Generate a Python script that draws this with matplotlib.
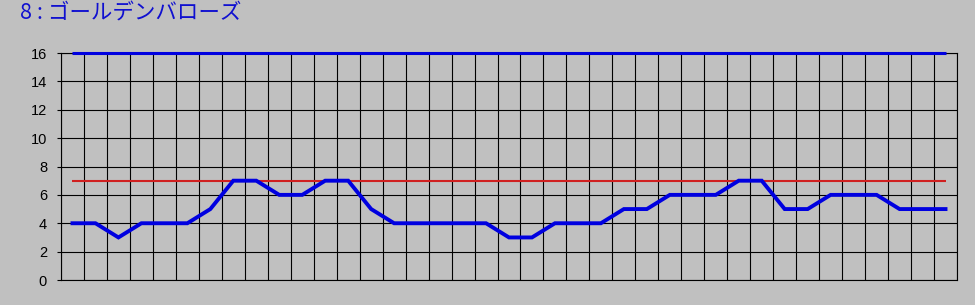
import matplotlib.pyplot as plt
import numpy as np

plt.rcParams['font.family'] = ['Liberation Sans', 'DejaVu Sans']

# race results per run, one value per column
title = '8 : ゴールデンバローズ'
values = [4, 4, 3, 4, 4, 4, 5, 7, 7, 6, 6, 7,
          7, 5, 4, 4, 4, 4, 4, 3, 3, 4, 4, 4,
          5, 5, 6, 6, 6, 7, 7, 5, 5, 6, 6, 6,
          5, 5, 5]
max_line = 16
avg_line = 7
yticks = [0, 2, 4, 6, 8, 10, 12, 14, 16]

bg = '#c0c0c0'
n = len(values)
x = np.arange(n)

fig = plt.figure(figsize=(9.75, 3.05), dpi=100, facecolor=bg)
ax = fig.add_axes([61 / 975, 25 / 305, 896 / 975, 227 / 305], facecolor=bg)

# grid: vertical lines at column edges, horizontal at every tick
for k in range(n + 1):
    ax.axvline(k - 0.5, color='black', lw=0.8, zorder=1)
for t in yticks:
    ax.axhline(t, color='black', lw=0.8, zorder=1)

ax.plot([x[0], x[-1]], [max_line, max_line], color='#0000e0', lw=2.2,
        solid_capstyle='butt', zorder=3, clip_on=False)
ax.plot([x[0], x[-1]], [avg_line, avg_line], color='#d02020', lw=1.5,
        solid_capstyle='butt', zorder=2)
ax.plot(x, values, color='#0000e0', lw=2.8, solid_joinstyle='miter', zorder=4)

ax.set_xlim(-0.5, n - 0.5)
ax.set_ylim(0, 16)
ax.set_xticks([])
ax.set_yticks(yticks)
ax.tick_params(axis='y', length=3, width=0.8, color='black', pad=7,
               labelsize=10.5)
for s in ax.spines.values():
    s.set_color('black')
    s.set_linewidth(0.8)

fig.text(20 / 975, 1 - 14 / 305, title, color='#1010d0', fontsize=15.5,
         va='center', ha='left',
         family=['Noto Sans CJK JP', 'DejaVu Sans'])

fig.savefig('out.png', dpi=100, facecolor=bg)
